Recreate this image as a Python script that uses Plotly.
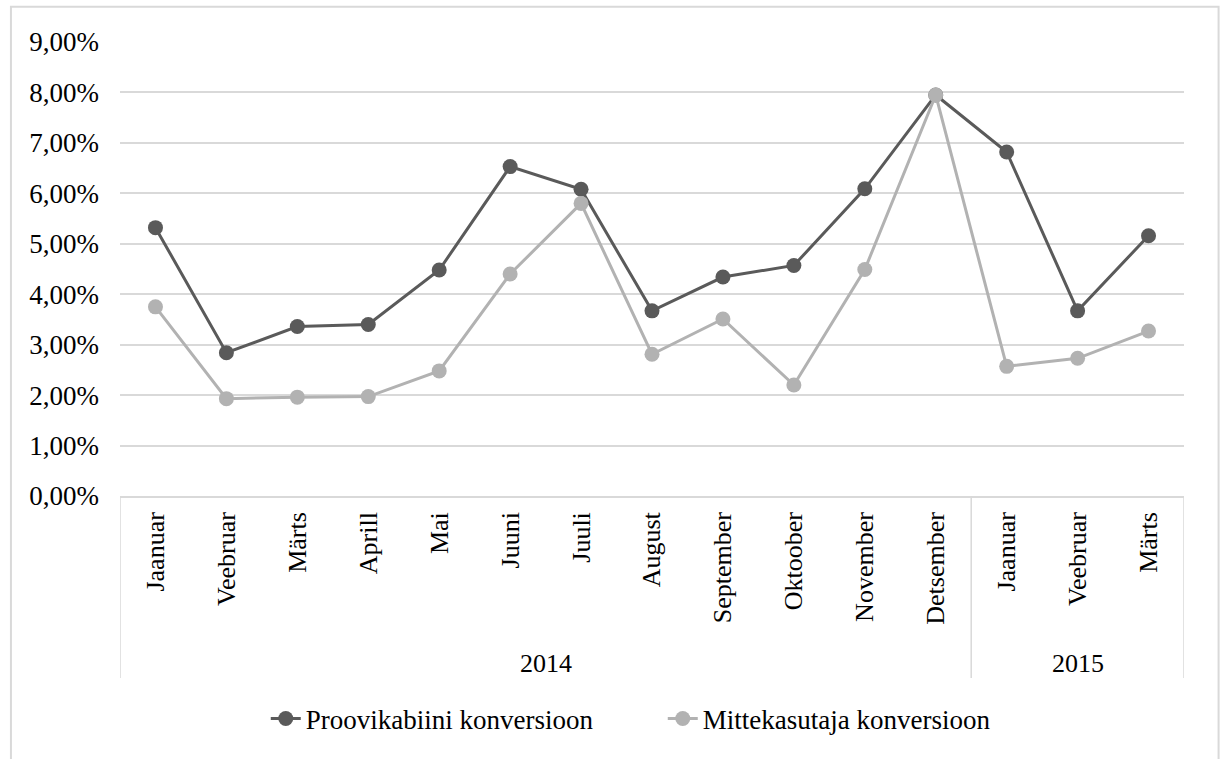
import plotly.graph_objects as go

# Monthly conversion rates (percent)
months = ["Jaanuar", "Veebruar", "Märts", "Aprill", "Mai", "Juuni", "Juuli",
          "August", "September", "Oktoober", "November", "Detsember",
          "Jaanuar", "Veebruar", "Märts"]
years = ["2014"] * 12 + ["2015"] * 3

proovikabiini = [5.32, 2.84, 3.36, 3.40, 4.48, 6.53, 6.08, 3.67, 4.34, 4.57,
                 6.09, 7.95, 6.82, 3.67, 5.16]
mittekasutaja = [3.75, 1.93, 1.96, 1.97, 2.48, 4.40, 5.80, 2.81, 3.51, 2.20,
                 4.49, 7.95, 2.57, 2.73, 3.27]

series_names = ["Proovikabiini konversioon", "Mittekasutaja konversioon"]
series_colors = ["#5a5a5a", "#b2b2b2"]

FONT = "Liberation Serif, Times New Roman, serif"
GRID = "#d9d9d9"

x = list(range(len(months)))

fig = go.Figure()
for name, vals, col in zip(series_names, [proovikabiini, mittekasutaja], series_colors):
    fig.add_trace(go.Scatter(
        x=x, y=[v / 100 for v in vals], name=name, mode="lines+markers",
        line=dict(color=col, width=3),
        marker=dict(color=col, size=15),
    ))

# Year groups: boundaries and centres on the category axis
groups = []
for i, yv in enumerate(years):
    if groups and groups[-1][0] == yv:
        groups[-1][2] = i
    else:
        groups.append([yv, i, i])

shapes = []
boundaries = [-0.5] + [g[2] + 0.5 for g in groups]
for b in boundaries:
    shapes.append(dict(type="line", xref="x", yref="paper", x0=b, x1=b,
                       y0=0, y1=-0.401, line=dict(color=GRID, width=1.5)))
# outer chart border
shapes.append(dict(type="rect", xref="paper", yref="paper",
                   x0=-0.1025, x1=1.0325, y0=-0.8, y1=1.0775,
                   line=dict(color=GRID, width=2), fillcolor="rgba(0,0,0,0)"))

annotations = []
for yv, i0, i1 in groups:
    annotations.append(dict(text=yv, x=(i0 + i1) / 2, xref="x", y=-0.368,
                            yref="paper", showarrow=False, yanchor="middle",
                            font=dict(family=FONT, size=26, color="#000000")))

fig.update_layout(
    width=1224, height=759,
    margin=dict(l=120, r=40, t=42, b=263),
    paper_bgcolor="white", plot_bgcolor="white",
    separators=", ",
    font=dict(family=FONT, size=26, color="#000000"),
    xaxis=dict(
        tickmode="array", tickvals=x, ticktext=months, tickangle=-90,
        range=[-0.5, len(months) - 0.5], showgrid=False, zeroline=False,
        showline=True, linecolor=GRID, linewidth=1.5, ticks="",
        ticklabelstandoff=4,
        tickfont=dict(family=FONT, size=26, color="#000000"),
    ),
    yaxis=dict(
        range=[0, 0.09], dtick=0.01, tickformat=".2%", showgrid=True,
        gridcolor=GRID, gridwidth=1.5, zeroline=False, showline=False,
        ticks="", ticklabelstandoff=20,
        tickfont=dict(family=FONT, size=27, color="#000000"),
    ),
    legend=dict(orientation="h", x=0.137, xanchor="left", y=-0.491,
                yanchor="middle", entrywidth=352, entrywidthmode="pixels",
                font=dict(family=FONT, size=27, color="#000000")),
    shapes=shapes,
    annotations=annotations,
)

fig.write_html("out.html")
